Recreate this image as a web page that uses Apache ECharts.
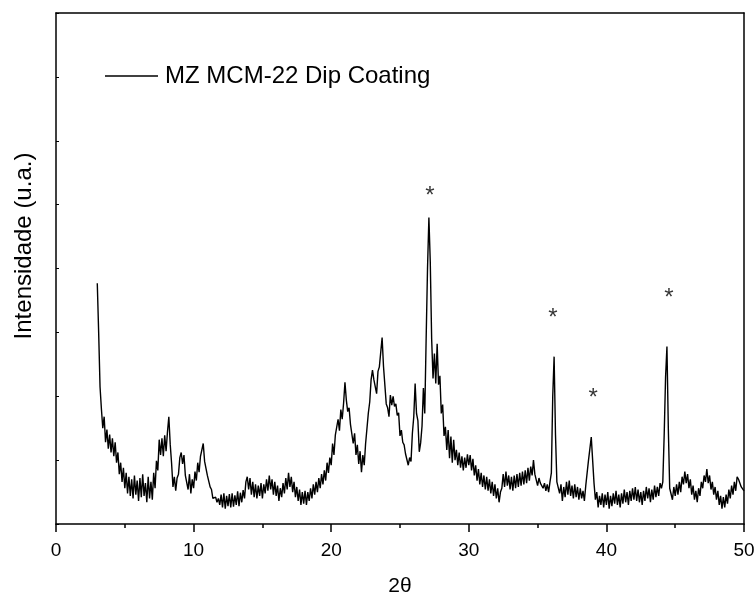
<!DOCTYPE html>
<html>
<head>
<meta charset="utf-8">
<script src="https://cdn.jsdelivr.net/npm/echarts@6/dist/echarts.min.js"></script>
<style>html,body{margin:0;padding:0;background:#fff}#c{width:756px;height:596px}</style>
</head>
<body>
<div id="c"></div>
<script>
// Measurement grid (2θ, degrees)
const angleStart = 3.0;
const angleStep = 0.1;
const intensity = [
/* 3.0 */ 377,300,215,180,150,168,128,148,118,140,
/* 4.0 */ 112,134,106,128,96,112,78,96,66,88,
/* 5.0 */ 56,80,48,74,44,70,40,76,46,68,
/* 6.0 */ 36,72,42,78,44,64,34,74,40,66,
/* 7.0 */ 38,80,56,99,84,132,108,134,106,139,
/* 8.0 */ 114,144,168,125,95,58,74,52,72,78,
/* 9.0 */ 104,112,94,108,76,74,54,78,48,70,
/* 10.0 */ 56,82,68,96,81,106,104,126,98,100,
/* 11.0 */ 76,74,58,54,40,40,42,34,40,30,
/* 12.0 */ 46,26,48,24,44,28,47,26,48,27,
/* 13.0 */ 45,30,51,28,49,34,53,40,66,74,
/* 14.0 */ 54,72,46,66,42,62,40,60,44,64,
/* 15.0 */ 40,62,48,70,52,76,54,70,46,66,
/* 16.0 */ 44,60,36,56,42,64,48,72,54,80,
/* 17.0 */ 58,74,50,66,42,58,36,54,30,50,
/* 18.0 */ 32,52,30,50,36,56,40,62,46,66,
/* 19.0 */ 50,72,56,78,62,84,68,96,80,104,
/* 20.0 */ 92,126,108,139,136,164,146,179,164,189,
/* 21.0 */ 222,194,176,182,156,154,126,142,108,124,
/* 22.0 */ 94,114,81,108,92,126,126,174,191,226,
/* 23.0 */ 241,226,224,204,239,246,244,292,247,248,
/* 24.0 */ 188,182,168,202,186,200,184,188,170,174,
/* 25.0 */ 138,147,128,124,110,107,92,104,98,142,
/* 26.0 */ 168,220,173,162,113,127,153,213,173,290,
/* 27.0 */ 400,480,410,290,228,267,220,282,218,232,
/* 28.0 */ 173,187,138,152,116,147,103,137,96,132,
/* 29.0 */ 100,116,92,112,88,106,84,104,88,109,
/* 30.0 */ 92,108,84,102,76,92,68,86,62,80,
/* 31.0 */ 58,76,54,74,52,70,48,66,44,62,
/* 32.0 */ 40,56,34,50,56,78,58,82,60,76,
/* 33.0 */ 54,74,52,76,56,78,58,80,60,82,
/* 34.0 */ 62,84,64,88,68,90,76,100,78,80,
/* 35.0 */ 60,72,64,66,56,64,52,62,50,66,
/* 36.0 */ 80,200,262,140,66,64,48,62,36,58,
/* 37.0 */ 42,66,46,68,44,60,40,62,42,58,
/* 38.0 */ 38,56,40,52,36,60,62,100,118,136,
/* 39.0 */ 100,64,38,50,26,44,30,48,26,46,
/* 40.0 */ 30,50,24,44,28,48,32,52,30,46,
/* 41.0 */ 26,48,32,54,34,50,30,52,36,56,
/* 42.0 */ 38,58,36,54,34,50,30,52,36,58,
/* 43.0 */ 40,56,34,54,38,60,42,58,44,64,
/* 44.0 */ 56,66,140,230,278,150,56,56,38,58,
/* 45.0 */ 44,62,46,66,50,74,62,82,64,78,
/* 46.0 */ 56,70,46,60,38,52,34,56,44,66,
/* 47.0 */ 56,76,66,86,64,76,54,66,46,58,
/* 48.0 */ 38,52,30,44,24,42,26,46,32,54,
/* 49.0 */ 40,60,46,66,52,74,70,68,58,60,
/* 50.0 */ 52
];
// Marked reflections (asterisks): 2θ and label height
const starAngles = [27.18, 36.12, 39.03, 44.55];
const starHeights = [513, 322, 197, 354];

const seriesName = 'MZ MCM-22 Dip Coating';
const xTicks = [0, 10, 20, 30, 40, 50];

const pattern = intensity.map((v, i) => [Math.round((angleStart + i * angleStep) * 100) / 100, v]);
const stars = starAngles.map((a, i) => [a, starHeights[i]]);

const FONT = 'Arial, "Liberation Sans", Helvetica, sans-serif';
const chart = echarts.init(document.getElementById('c'), null, {renderer: 'canvas'});
chart.setOption({
  animation: false,
  backgroundColor: '#fff',
  grid: {left: 56, top: 13, right: 12, bottom: 72, containLabel: false, outerBoundsMode: 'none'},
  legend: {
    data: [{name: seriesName, icon: 'rect'}], left: 105, top: 64, padding: 0,
    itemWidth: 53, itemHeight: 1.5,
    itemStyle: {color: '#000'},
    textStyle: {fontFamily: FONT, fontSize: 24, color: '#000', padding: [0, 0, 0, 2]},
    inactiveColor: '#000'
  },
  xAxis: [{
    type: 'value', min: xTicks[0], max: xTicks[xTicks.length - 1], interval: 10,
    position: 'bottom',
    axisLine: {lineStyle: {color: '#000', width: 1.5}},
    axisTick: {show: true, inside: false, length: 8, lineStyle: {color: '#000', width: 1.5}},
    minorTick: {show: true, splitNumber: 2, length: 4, lineStyle: {color: '#000', width: 1.5}},
    splitLine: {show: false},
    axisLabel: {fontFamily: FONT, fontSize: 19, color: '#000', margin: 17},
    name: '2θ', nameLocation: 'middle', nameGap: 52,
    nameTextStyle: {fontFamily: FONT, fontSize: 21, color: '#000'}
  }, {
    type: 'value', min: 0, max: 50, position: 'top',
    axisLine: {show: true, onZero: false, lineStyle: {color: '#000', width: 1.5}},
    axisTick: {show: false}, axisLabel: {show: false}, splitLine: {show: false}
  }],
  yAxis: [{
    type: 'value', min: 0, max: 800, interval: 100, position: 'left',
    axisLine: {show: true, onZero: false, lineStyle: {color: '#000', width: 1.5}},
    axisTick: {show: true, inside: true, length: 3, lineStyle: {color: '#000', width: 1}},
    axisLabel: {show: false}, splitLine: {show: false}
  }, {
    type: 'value', min: 0, max: 800, position: 'right',
    axisLine: {show: true, onZero: false, lineStyle: {color: '#000', width: 1.5}},
    axisTick: {show: false}, axisLabel: {show: false}, splitLine: {show: false}
  }],
  graphic: [{
    type: 'text', x: 24, y: 246, rotation: Math.PI / 2,
    style: {text: 'Intensidade (u.a.)', fontFamily: FONT, fontSize: 24, fill: '#000',
      align: 'center', verticalAlign: 'middle'}
  }],
  series: [{
    name: seriesName, type: 'line', data: pattern, symbol: 'none',
    lineStyle: {color: '#000', width: 1.4}, itemStyle: {color: '#000'}
  }, {
    name: 'marks', type: 'scatter', data: stars, symbolSize: 1,
    itemStyle: {color: 'rgba(0,0,0,0)'},
    label: {show: true, position: 'inside', formatter: '*', fontFamily: FONT,
      fontSize: 24, color: '#000'}
  }]
});
</script>
</body>
</html>
